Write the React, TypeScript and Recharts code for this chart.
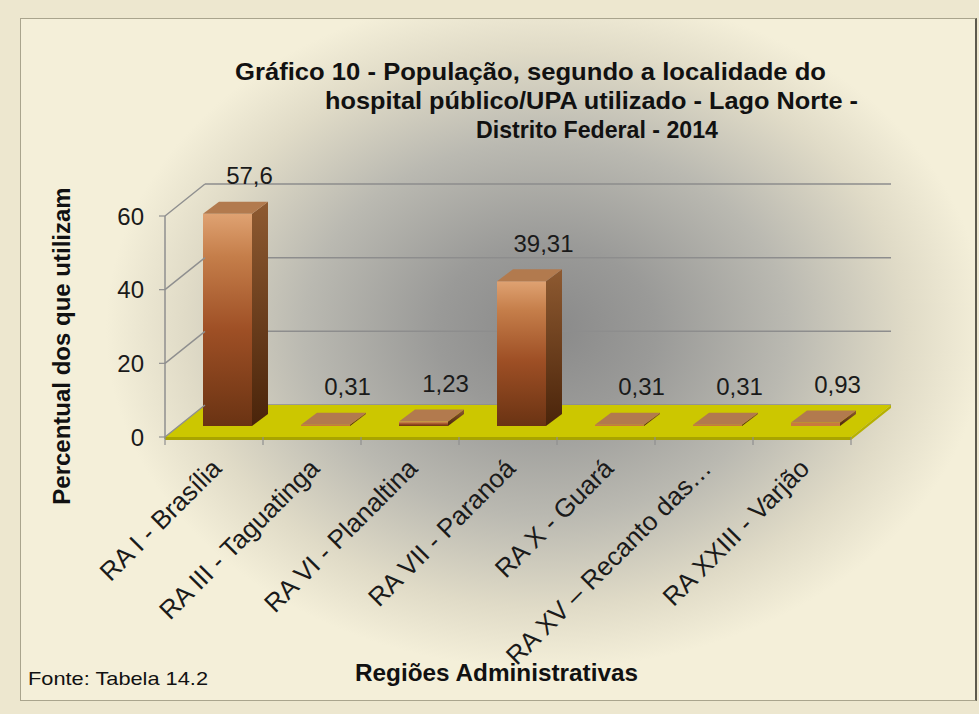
import React from 'react';
import { BarChart, Bar, XAxis, YAxis, CartesianGrid, ReferenceArea, LabelList } from 'recharts';

const categories = [
  'RA I - Brasília',
  'RA III - Taguatinga',
  'RA VI - Planaltina',
  'RA VII - Paranoá',
  'RA X - Guará',
  'RA XV – Recanto das…',
  'RA XXIII - Varjão',
];
const values = [57.6, 0.31, 1.23, 39.31, 0.31, 0.31, 0.93];
const yTicks = [0, 20, 40, 60];
const titleLines = [
  'Gráfico 10 - População, segundo a localidade do',
  'hospital público/UPA utilizado - Lago Norte -',
  'Distrito Federal - 2014',
];
const yAxisTitle = 'Percentual dos que utilizam';
const xAxisTitle = 'Regiões Administrativas';
const sourceNote = 'Fonte: Tabela 14.2';

const data = categories.map((name, i) => ({ name, value: values[i] }));

const FONT = '"Liberation Sans", Arial, sans-serif';
// front plane offset relative to back wall
const DX = -40;
const DY = 32;
// bar front face offset relative to back wall
const BFX = -27;
const BFY = 21;
// bar depth
const BDX = 16;
const BDY = -12;

const fmt = (v: number) => String(v).replace('.', ',');

const Bar3D = (props: any) => {
  const { x, y, width, height } = props;
  if (x == null || y == null) return null;
  const fx = x + BFX;
  const fy = y + BFY;
  const fw = width;
  const fh = Math.max(height, 1);
  const top = `${fx},${fy} ${fx + fw},${fy} ${fx + fw + BDX},${fy + BDY} ${fx + BDX},${fy + BDY}`;
  const side = `${fx + fw},${fy} ${fx + fw + BDX},${fy + BDY} ${fx + fw + BDX},${fy + fh + BDY} ${fx + fw},${fy + fh}`;
  return (
    <g>
      <polygon points={side} fill="url(#barSide)" />
      <rect x={fx} y={fy} width={fw} height={fh} fill={fh > 4 ? 'url(#barFront)' : '#C9793F'} />
      <polygon points={top} fill="#B27A4E" />
    </g>
  );
};

const Floor = (props: any) => {
  const { x, y, width, height } = props;
  if (x == null) return null;
  const b = y + height;
  const n = categories.length;
  const top = `${x},${b} ${x + width},${b} ${x + width + DX},${b + DY} ${x + DX},${b + DY}`;
  const front = `${x + DX},${b + DY} ${x + width + DX},${b + DY} ${x + width + DX},${b + DY + 3} ${x + DX},${b + DY + 3}`;
  const right = `${x + width},${b} ${x + width + DX},${b + DY} ${x + width + DX},${b + DY + 3} ${x + width},${b + 3}`;
  const ticks = [];
  for (let i = 0; i <= n; i++) {
    const tx = x + DX + (i * width) / n;
    ticks.push(<line key={i} x1={tx} y1={b + DY} x2={tx} y2={b + DY + 8} stroke="#8f8f8f" strokeWidth={1.2} />);
  }
  return (
    <g>
      <line x1={x + DX} y1={y + DY} x2={x + DX} y2={b + DY + 2} stroke="#8f8f8f" strokeWidth={1.5} />
      <polygon points={top} fill="#CCC700" />
      <polygon points={front} fill="#A9A400" />
      <polygon points={right} fill="#B6B100" />
      {ticks}
    </g>
  );
};

const YTick = (props: any) => {
  const { x, y, payload } = props;
  return (
    <g>
      <line x1={x} y1={y} x2={x + DX} y2={y + DY} stroke="#8f8f8f" strokeWidth={1.5} />
      <line x1={x + DX - 6} y1={y + DY} x2={x + DX} y2={y + DY} stroke="#8f8f8f" strokeWidth={1.2} />
      <text x={x + DX - 21} y={y + DY} textAnchor="end" dominantBaseline="central" fontFamily={FONT} fontSize={24} fill="#1a1a1a">
        {payload.value}
      </text>
    </g>
  );
};

const XTick = (props: any) => {
  const { x, y, payload } = props;
  const ax = x + DX + 9;
  const ay = y + DY + 33;
  return (
    <text x={ax} y={ay} textAnchor="end" transform={`rotate(-45 ${ax} ${ay})`} fontFamily={FONT} fontSize={26} fill="#1a1a1a">
      {payload.value}
    </text>
  );
};

const ValueLabel = (props: any) => {
  const { x, y, width, value } = props;
  if (x == null) return null;
  return (
    <text x={x + width / 2 - 5} y={y + BFY - 38} textAnchor="middle" dominantBaseline="central" fontFamily={FONT} fontSize={24} fill="#1a1a1a">
      {fmt(value)}
    </text>
  );
};

export default function App() {
  return (
    <div style={{ position: 'absolute', left: 0, top: 0, width: 979, height: 714, background: '#EDE7CF', overflow: 'hidden' }}>
      <svg width={0} height={0} style={{ position: 'absolute' }}>
        <defs>
          <linearGradient id="barFront" x1="0" y1="0" x2="0" y2="1">
            <stop offset="0" stopColor="#DFA272" />
            <stop offset="0.2" stopColor="#C57E4A" />
            <stop offset="0.55" stopColor="#9E4F25" />
            <stop offset="1" stopColor="#6A3313" />
          </linearGradient>
          <linearGradient id="barSide" x1="0" y1="0" x2="0" y2="1">
            <stop offset="0" stopColor="#8E5A31" />
            <stop offset="1" stopColor="#4A240A" />
          </linearGradient>
        </defs>
      </svg>
      <div
        style={{
          position: 'absolute',
          left: 20,
          top: 18,
          width: 954,
          height: 681,
          borderTop: '1px solid #A9A48D',
          borderLeft: '1px solid #A9A48D',
          borderBottom: '1px solid #A9A48D',
          borderRight: '2px solid #5C594D',
          background:
            'radial-gradient(ellipse 440px 340px at 525px 310px, #898989 0%, #9A9A98 25%, #BAB9B1 55%, #E0DBC7 82%, #F4EFD9 100%)',
        }}
      />
      <div style={{ position: 'absolute', left: 0, top: 0 }}>
        <BarChart width={979} height={714} data={data} margin={{ top: 184, right: 88, left: 145, bottom: 279 }}>
          <CartesianGrid vertical={false} stroke="#8d8d8d" strokeWidth={1.5} />
          <XAxis dataKey="name" height={30} tickSize={0} tickMargin={0} axisLine={false} tickLine={false} interval={0} tick={(p: any) => <XTick {...p} />} />
          <YAxis domain={[0, yTicks[yTicks.length - 1]]} ticks={yTicks} width={60} tickSize={0} tickMargin={0} axisLine={false} tickLine={false} interval={0} tick={(p: any) => <YTick {...p} />} />
          <ReferenceArea y1={0} y2={yTicks[yTicks.length - 1]} shape={(p: any) => <Floor {...p} />} fill="none" stroke="none" />
          <Bar dataKey="value" barSize={49} isAnimationActive={false} shape={(p: any) => <Bar3D {...p} />}>
            <LabelList dataKey="value" content={(p: any) => <ValueLabel {...p} />} />
          </Bar>
        </BarChart>
      </div>
      <svg width={979} height={714} style={{ position: 'absolute', left: 0, top: 0, pointerEvents: 'none' }}>
        <text x={235} y={80} textLength={591} lengthAdjust="spacingAndGlyphs" fontFamily={FONT} fontWeight="bold" fontSize={24} fill="#111">
          {titleLines[0]}
        </text>
        <text x={325} y={109} textLength={533} lengthAdjust="spacingAndGlyphs" fontFamily={FONT} fontWeight="bold" fontSize={24} fill="#111">
          {titleLines[1]}
        </text>
        <text x={476} y={138} textLength={242} lengthAdjust="spacingAndGlyphs" fontFamily={FONT} fontWeight="bold" fontSize={24} fill="#111">
          {titleLines[2]}
        </text>
        <text x={70} y={346} textAnchor="middle" transform="rotate(-90 70 346)" fontFamily={FONT} fontWeight="bold" fontSize={24} fill="#111">
          {yAxisTitle}
        </text>
        <text x={355} y={681} textLength={283} lengthAdjust="spacingAndGlyphs" fontFamily={FONT} fontWeight="bold" fontSize={24} fill="#111">
          {xAxisTitle}
        </text>
        <text x={28} y={685} textLength={180} lengthAdjust="spacingAndGlyphs" fontFamily={FONT} fontSize={19} fill="#111">
          {sourceNote}
        </text>
      </svg>
    </div>
  );
}
